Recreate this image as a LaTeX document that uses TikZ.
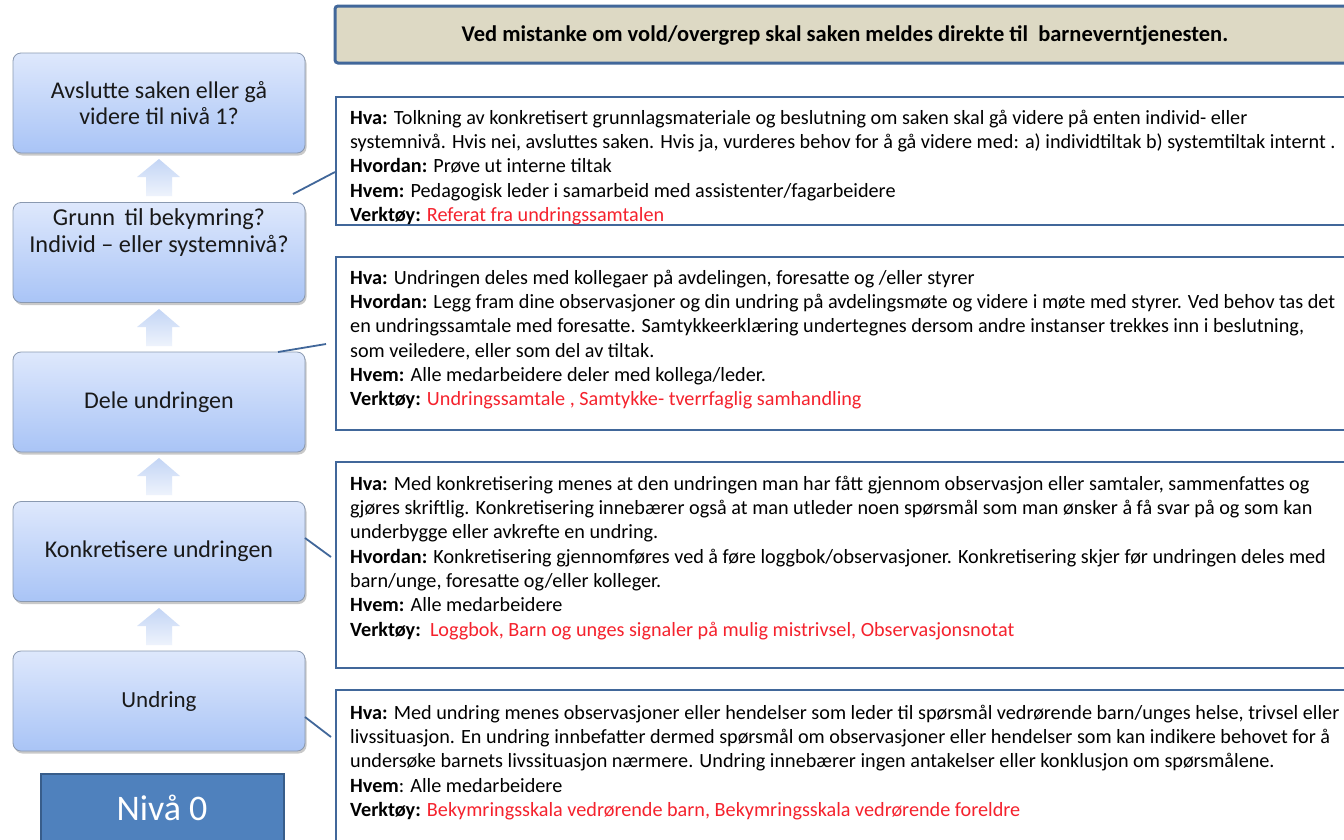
\documentclass[tikz,border=0pt]{standalone}
\usepackage{fontspec}
\setmainfont{Carlito}
\newfontfamily\cond{Carlito}
\usetikzlibrary{shadows}
\definecolor{boxtop}{HTML}{DEE8FC}
\definecolor{boxbot}{HTML}{A9C4F6}
\definecolor{boxedge}{HTML}{8A99B0}
\definecolor{navy}{HTML}{41679A}
\definecolor{tan}{HTML}{DDD9C4}
\definecolor{rtxt}{HTML}{F5222D}
\definecolor{nivfill}{HTML}{4F81BD}
\definecolor{nivedge}{HTML}{385D8A}
\definecolor{arrtop}{HTML}{C3D5F5}
\definecolor{arrbot}{HTML}{EEF3FC}
\tikzset{
  stepbox/.style={rounded corners=8pt, draw=boxedge, line width=0.8pt, top color=boxtop, bottom color=boxbot,
    minimum width=292pt, minimum height=100pt, align=center, text=black!90,
    font=\fontsize{24}{26.5}\selectfont,
    drop shadow={shadow xshift=1.5pt, shadow yshift=-2.5pt, opacity=0.35, fill=black!60}},
  steptext/.style={align=center, text=black!90, font=\fontsize{24.3}{26.5}\selectfont, inner sep=0pt},
  infobox/.style={draw=navy, line width=2pt, fill=white},
  infotext/.style={anchor=north west, align=left, inner sep=0pt, font=\cond\fontsize{20.2}{24.3}\selectfont},
  upar/.style={top color=arrtop, bottom color=arrbot, draw=none},
  conn/.style={draw=navy, line width=1.8pt},
}
\newcommand{\rt}[1]{\textcolor{rtxt}{#1}}
\begin{document}
\begin{tikzpicture}[x=1pt,y=-1pt]
\clip (0,0) rectangle (1344,839);
\fill[white] (0,0) rectangle (1344,839);

% up arrows
\foreach \t in {153,303,452,602}{
  \path[upar] (159,\t+6) -- (180,\t+24) -- (172,\t+24) -- (172,\t+43) -- (146,\t+43) -- (146,\t+24) -- (137,\t+24) -- cycle;
}

% left step boxes
\node[stepbox] (s1) at (159,103) {Avslutte saken eller gå\\videre til nivå 1?};
\node[stepbox] (s2) at (159,252.5) {};
\node[steptext] (s2t) at (159,232.5) {Grunn\, til bekymring?\\Individ -- eller systemnivå?};
\node[stepbox] (s3) at (159,402) {Dele undringen};
\node[stepbox] (s4) at (159,551.5) {Konkretisere undringen};
\node[stepbox, font=\fontsize{23}{26}\selectfont] (s5) at (159,701) {Undring};

% Nivå 0
\node[draw=nivedge, line width=2pt, fill=nivfill, minimum width=243pt, minimum height=80pt, anchor=north west,
  inner sep=0pt] (niv) at (40,773) {};
\node[text=white, font=\fontsize{36}{40}\selectfont, inner sep=0pt] (nivt) at (162,808) {Nivå 0};

% banner
\draw[rounded corners=3pt, fill=tan, draw=navy, line width=3pt] (335,6) rectangle (1370,63);
\node[font=\bfseries\fontsize{22.5}{26}\selectfont, inner sep=0pt] (ban) at (845,35)
  {Ved mistanke om vold/overgrep skal saken meldes direkte til\ \ barneverntjenesten.};

% info boxes
\path[infobox] (336,97) rectangle (1370,225);
\path[infobox] (336,257) rectangle (1370,430);
\path[infobox] (336,462) rectangle (1370,668);
\path[infobox] (336,690) rectangle (1370,860);

\node[infotext] (ta) at (350,107) {\strut\textbf{Hva:} Tolkning av konkretisert grunnlagsmateriale og beslutning om saken skal gå videre på enten individ- eller\\
systemnivå. Hvis nei, avsluttes saken. Hvis ja, vurderes behov for å gå videre med: a) individtiltak b) systemtiltak internt .\\
\textbf{Hvordan:} Prøve ut interne tiltak\\
\textbf{Hvem:} Pedagogisk leder i samarbeid med assistenter/fagarbeidere\\
\textbf{Verktøy:} \rt{Referat fra undringssamtalen}};

\node[infotext] (tb) at (350,267) {\strut\textbf{Hva:} Undringen deles med kollegaer på avdelingen, foresatte og /eller styrer\\
\textbf{Hvordan:} Legg fram dine observasjoner og din undring på avdelingsmøte og videre i møte med styrer. Ved behov tas det\\
en undringssamtale med foresatte. Samtykkeerklæring undertegnes dersom andre instanser trekkes inn i beslutning,\\
som veiledere, eller som del av tiltak.\\
\textbf{Hvem:} Alle medarbeidere deler med kollega/leder.\\
\textbf{Verktøy:} \rt{Undringssamtale , Samtykke- tverrfaglig samhandling}};

\node[infotext] (tc) at (350,473) {\strut\textbf{Hva:} Med konkretisering menes at den undringen man har fått gjennom observasjon eller samtaler, sammenfattes og\\
gjøres skriftlig. Konkretisering innebærer også at man utleder noen spørsmål som man ønsker å få svar på og som kan\\
underbygge eller avkrefte en undring.\\
\textbf{Hvordan:} Konkretisering gjennomføres ved å føre loggbok/observasjoner. Konkretisering skjer før undringen deles med\\
barn/unge, foresatte og/eller kolleger.\\
\textbf{Hvem:} Alle medarbeidere\\
\textbf{Verktøy:}\ \ \rt{Loggbok, Barn og unges signaler på mulig mistrivsel, Observasjonsnotat}};

\node[infotext] (td) at (350,702) {\strut\textbf{Hva:} Med undring menes observasjoner eller hendelser som leder til spørsmål vedrørende barn/unges helse, trivsel eller\\
livssituasjon. En undring innbefatter dermed spørsmål om observasjoner eller hendelser som kan indikere behovet for å\\
undersøke barnets livssituasjon nærmere. Undring innebærer ingen antakelser eller konklusjon om spørsmålene.\\
\textbf{Hvem}: Alle medarbeidere\\
\textbf{Verktøy:} \rt{Bekymringsskala vedrørende barn, Bekymringsskala vedrørende foreldre}};

% connectors
\coordinate (c1a) at (293,194); \coordinate (c1b) at (335,172);
\coordinate (c2a) at (278,352); \coordinate (c2b) at (326,344);
\coordinate (c3a) at (305,538); \coordinate (c3b) at (331,557);
\coordinate (c4a) at (305,717); \coordinate (c4b) at (331,737);
\draw[conn] (c1a) -- (c1b);
\draw[conn] (c2a) -- (c2b);
\draw[conn] (c3a) -- (c3b);
\draw[conn] (c4a) -- (c4b);
\end{tikzpicture}
\end{document}
